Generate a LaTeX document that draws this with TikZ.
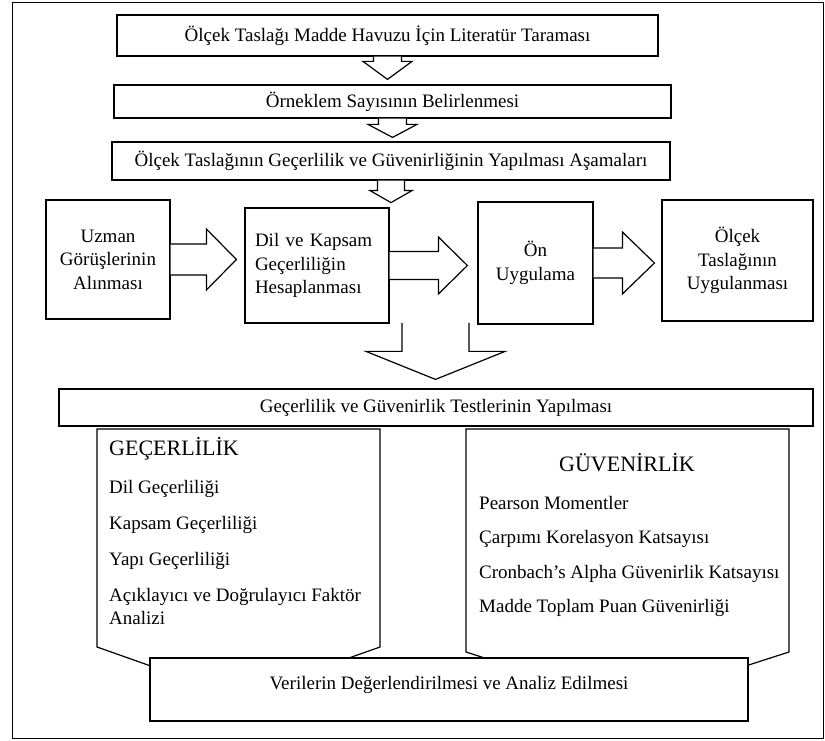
\documentclass[tikz,border=0pt]{standalone}
\usepackage{fontspec}
\setmainfont{Liberation Serif}
\usetikzlibrary{calc}

\tikzset{
  box/.style={draw, line width=1.2pt, fill=white, inner sep=0pt, align=center, font=\fontsize{19}{23.5}\selectfont},
  hollow/.style={draw, line width=1.2pt, fill=white, line join=miter},
  panel/.style={draw, line width=1.2pt, fill=white, line join=miter},
  item/.style={anchor=base west, inner sep=0pt, font=\fontsize{19}{23.5}\selectfont},
  heading/.style={anchor=base, inner sep=0pt, font=\fontsize{22}{26}\selectfont}
}

% hollow block arrows: start, tip, shaft half width, head half width, head length
\newcommand{\hollowdown}[5]{%
  \draw[hollow] let \p1=(#1), \p2=(#2) in
    (\x1-#3,\y1) -- (\x1-#3,\y2+#5) -- (\x1-#4,\y2+#5) -- (\x1,\y2)
    -- (\x1+#4,\y2+#5) -- (\x1+#3,\y2+#5) -- (\x1+#3,\y1);}
\newcommand{\hollowright}[5]{%
  \draw[hollow] let \p1=(#1), \p2=(#2) in
    (\x1,\y1+#3) -- (\x2-#5,\y1+#3) -- (\x2-#5,\y1+#4) -- (\x2,\y1)
    -- (\x2-#5,\y1-#4) -- (\x2-#5,\y1-#3) -- (\x1,\y1-#3);}

\begin{document}
\begin{tikzpicture}[x=1pt, y=1pt]
    \useasboundingbox (0,0) rectangle (825,740);
    \draw[line width=0.8pt] (12,2) rectangle (823,738);

    % top chain
    \node (lit) [box, minimum width=541pt, minimum height=41pt] at (387.5,704.5) {Ölçek Taslağı Madde Havuzu İçin Literatür Taraması};
    \node (orn) [box, minimum width=557pt, minimum height=33pt] at (392.5,638.5) {Örneklem Sayısının Belirlenmesi};
    \node (asa) [box, minimum width=558pt, minimum height=38pt] at (391,579) {Ölçek Taslağının Geçerlilik ve Güvenirliğinin Yapılması Aşamaları};

    \hollowdown{lit.south}{$(orn.north)+(0,5)$}{14}{24.5}{18}
    \hollowdown{orn.south}{$(asa.north)+(0,4)$}{14}{24.5}{13}
    \hollowdown{asa.south}{$(asa.south)+(0,-22)$}{13.5}{21}{12}

    % stages
    \node (uzm) [box, minimum width=124pt, minimum height=119pt] at (108,480.5) {Uzman\\Görüşlerinin\\Alınması};
    \node (dil) [box, text width=124pt, align=left, inner xsep=10pt, minimum height=115pt] at (317,474.5) {Dil ve Kapsam\\Geçerliliğin\\Hesaplanması};
    \node (onu) [box, minimum width=115pt, minimum height=122pt] at (535.5,477) {Ön\\Uygulama};
    \node (uyg) [box, minimum width=151pt, minimum height=121pt] at (737.5,479.5) {Ölçek\\Taslağının\\Uygulanması};

    \hollowright{uzm.east}{$(dil.west)+(-8,0)$}{15.5}{30.5}{30}
    \hollowright{dil.east}{$(onu.west)+(-10,0)$}{14}{28.5}{29}
    \hollowright{onu.east}{$(uyg.west)+(-7,0)$}{15}{31}{32}

    % tests
    \node (test) [box, minimum width=754pt, minimum height=37pt] at (436,332.5) {Geçerlilik ve Güvenirlik Testlerinin Yapılması};
    \coordinate (bigtop) at (435.5,417);
    \hollowdown{bigtop}{$(test.north)+(0,9)$}{33.5}{69.5}{28}

    \draw[panel] (97,311) -- (380,311) -- (380,93) -- (238.5,43) -- (97,93) -- cycle;
    \draw[panel] (466,311) -- (789,311) -- (789,88) -- (627.5,36) -- (466,88) -- cycle;

    \node (gecbas) [heading, anchor=base west] at (109,284) {GEÇERLİLİK};
    \node (gec1) [item] at (109,247) {Dil Geçerliliği};
    \node (gec2) [item] at (109,211) {Kapsam Geçerliliği};
    \node (gec3) [item] at (109,175) {Yapı Geçerliliği};
    \node (gec4) [item] at (109,139) {Açıklayıcı ve Doğrulayıcı Faktör};
    \node (gec5) [item] at (109,116) {Analizi};

    \node (guvbas) [heading] at (627,269) {GÜVENİRLİK};
    \node (guv1) [item] at (479,231) {Pearson Momentler};
    \node (guv2) [item] at (479,197) {Çarpımı Korelasyon Katsayısı};
    \node (guv3) [item] at (479,162) {Cronbach’s Alpha Güvenirlik Katsayısı};
    \node (guv4) [item] at (479,128) {Madde Toplam Puan Güvenirliği};

    \node (ver) [box, minimum width=598pt, minimum height=63pt, text height=14pt, text depth=14pt] at (449,50.5) {Verilerin Değerlendirilmesi ve Analiz Edilmesi};
\end{tikzpicture}
\end{document}
